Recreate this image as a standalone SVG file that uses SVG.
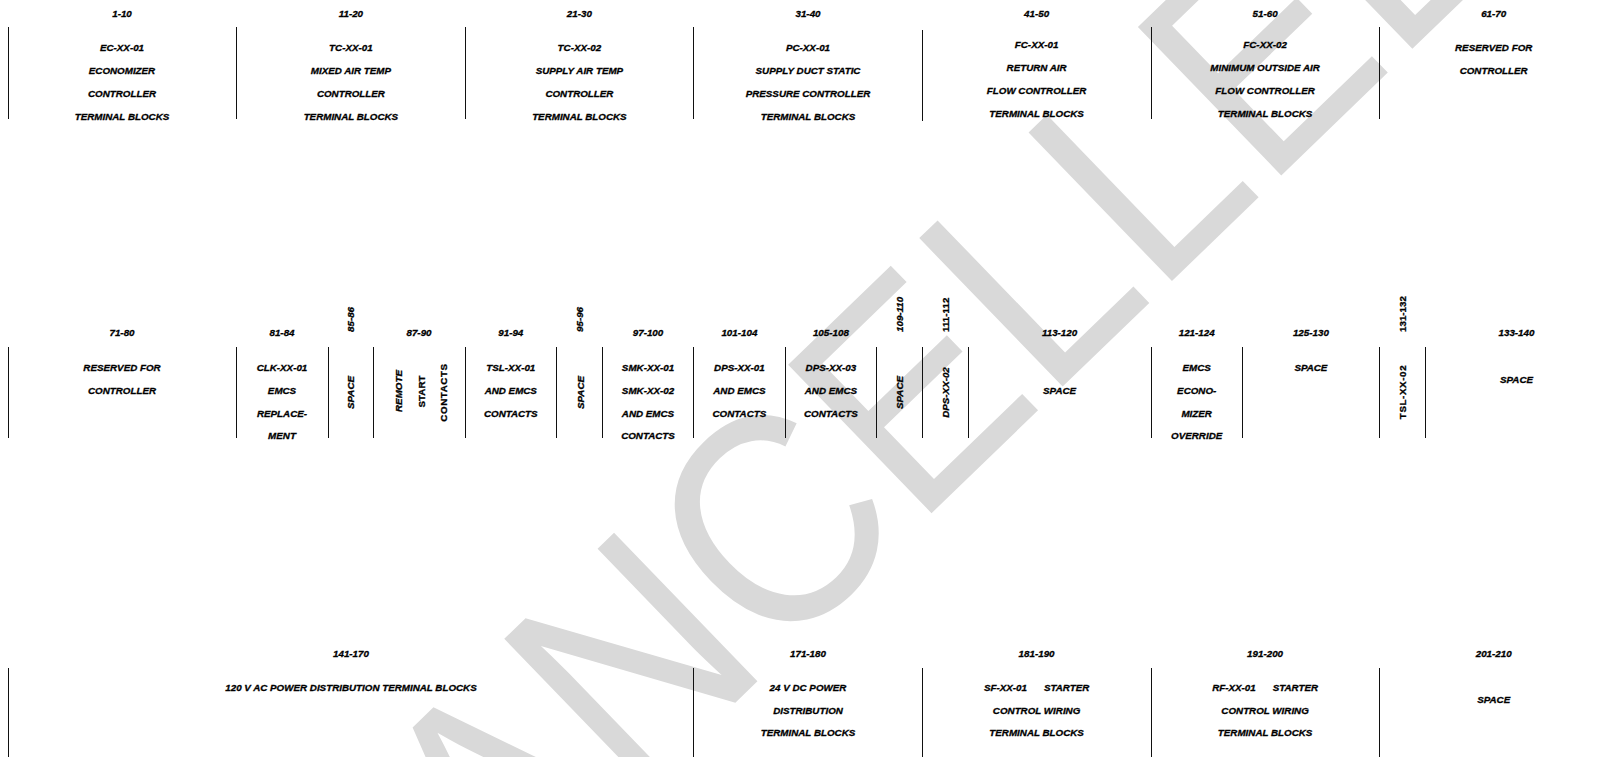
<svg xmlns="http://www.w3.org/2000/svg" width="1600" height="757" viewBox="0 0 1600 757">
<style>
.t{font-family:"Liberation Sans",Arial,sans-serif;font-size:9.8px;font-weight:bold;font-style:italic;text-anchor:middle;fill:#000;stroke:#000;stroke-width:0.3}
.n{font-style:normal}
.s{text-anchor:start}
.ln{stroke:#111;stroke-width:1;fill:none}
.wm{font-family:"Liberation Sans",Arial,sans-serif;font-size:300px;fill:#d9d9d9;text-anchor:middle}
</style>
<rect width="1600" height="757" fill="#fff"/>
<g id="watermark" transform="translate(874,420) rotate(-44)">
<text class="wm" x="0" y="107" textLength="1640" lengthAdjust="spacingAndGlyphs">CANCELLED</text>
</g>
<g id="dividers" class="ln">
<path d="M8.5 27V119M236.5 27V119M465.5 27V119M693.5 27V119M922.5 30V121M1151.5 27V119M1379.5 27V119"/>
<path d="M8.5 347V438M236.5 347V438M328.5 347V438M373.5 347V438M465.5 347V438M556.5 347V438M602.5 347V438M693.5 347V438M785.5 347V438M876.5 347V438M922.5 347V438M968.5 347V438M1151.5 347V438M1242.5 347V438M1379.5 347V438M1425.5 347V438"/>
<path d="M8.5 668V757M693.5 668V757M922.5 668V757M1151.5 668V757M1379.5 668V757"/>
</g>
<g id="tb-1-10" class="t"><text x="122" y="16.8">1-10</text><text x="122" y="51">EC-XX-01</text><text x="122" y="74">ECONOMIZER</text><text x="122" y="97">CONTROLLER</text><text x="122" y="119.7">TERMINAL BLOCKS</text></g>
<g id="tb-11-20" class="t"><text x="350.9" y="16.8">11-20</text><text x="350.9" y="51">TC-XX-01</text><text x="350.9" y="74">MIXED AIR TEMP</text><text x="350.9" y="97">CONTROLLER</text><text x="350.9" y="119.7">TERMINAL BLOCKS</text></g>
<g id="tb-21-30" class="t"><text x="579.4" y="16.8">21-30</text><text x="579.4" y="51">TC-XX-02</text><text x="579.4" y="74">SUPPLY AIR TEMP</text><text x="579.4" y="97">CONTROLLER</text><text x="579.4" y="119.7">TERMINAL BLOCKS</text></g>
<g id="tb-31-40" class="t"><text x="808" y="16.8">31-40</text><text x="808" y="51">PC-XX-01</text><text x="808" y="74">SUPPLY DUCT STATIC</text><text x="808" y="97">PRESSURE CONTROLLER</text><text x="808" y="119.7">TERMINAL BLOCKS</text></g>
<g id="tb-41-50" class="t"><text x="1036.6" y="16.8">41-50</text><text x="1036.6" y="47.6">FC-XX-01</text><text x="1036.6" y="71">RETURN AIR</text><text x="1036.6" y="94">FLOW CONTROLLER</text><text x="1036.6" y="117">TERMINAL BLOCKS</text></g>
<g id="tb-51-60" class="t"><text x="1265.1" y="16.8">51-60</text><text x="1265.1" y="47.6">FC-XX-02</text><text x="1265.1" y="71">MINIMUM OUTSIDE AIR</text><text x="1265.1" y="94">FLOW CONTROLLER</text><text x="1265.1" y="117">TERMINAL BLOCKS</text></g>
<g id="tb-61-70" class="t"><text x="1493.7" y="16.8">61-70</text><text x="1493.7" y="51">RESERVED FOR</text><text x="1493.7" y="74">CONTROLLER</text></g>
<g id="tb-71-80" class="t"><text x="122" y="336.2">71-80</text><text x="122" y="371">RESERVED FOR</text><text x="122" y="393.7">CONTROLLER</text></g>
<g id="tb-81-84" class="t"><text x="282" y="336.2">81-84</text><text x="282" y="371">CLK-XX-01</text><text x="282" y="393.7">EMCS</text><text x="282" y="416.5">REPLACE-</text><text x="282" y="439.3">MENT</text></g>
<g id="tb-85-86" class="t"><text class="s" transform="translate(354.3,332) rotate(-90)">85-86</text><text transform="translate(354.3,392.5) rotate(-90)">SPACE</text></g>
<g id="tb-87-90" class="t"><text x="419" y="336.2">87-90</text><text transform="translate(401.8,391) rotate(-90)">REMOTE</text><text class="n" transform="translate(425.2,391.5) rotate(-90)">START</text><text class="n" transform="translate(446.8,392.5) rotate(-90)" letter-spacing="0.6">CONTACTS</text></g>
<g id="tb-91-94" class="t"><text x="510.8" y="336.2">91-94</text><text x="510.8" y="371">TSL-XX-01</text><text x="510.8" y="393.7">AND EMCS</text><text x="510.8" y="416.5">CONTACTS</text></g>
<g id="tb-95-96" class="t"><text class="s" transform="translate(583.2,332) rotate(-90)">95-96</text><text transform="translate(583.5,392.5) rotate(-90)">SPACE</text></g>
<g id="tb-97-100" class="t"><text x="648" y="336.2">97-100</text><text x="648" y="371">SMK-XX-01</text><text x="648" y="393.7">SMK-XX-02</text><text x="648" y="416.5">AND EMCS</text><text x="648" y="439.3">CONTACTS</text></g>
<g id="tb-101-104" class="t"><text x="739.4" y="336.2">101-104</text><text x="739.4" y="371">DPS-XX-01</text><text x="739.4" y="393.7">AND EMCS</text><text x="739.4" y="416.5">CONTACTS</text></g>
<g id="tb-105-108" class="t"><text x="830.9" y="336.2">105-108</text><text x="830.9" y="371">DPS-XX-03</text><text x="830.9" y="393.7">AND EMCS</text><text x="830.9" y="416.5">CONTACTS</text></g>
<g id="tb-109-110" class="t"><text class="s" transform="translate(903,332) rotate(-90)">109-110</text><text transform="translate(903,392.5) rotate(-90)">SPACE</text></g>
<g id="tb-111-112" class="t"><text class="s n" transform="translate(948.6,332) rotate(-90)">111-112</text><text transform="translate(948.6,392.5) rotate(-90)">DPS-XX-02</text></g>
<g id="tb-113-120" class="t"><text x="1059.6" y="336.2">113-120</text><text x="1059.6" y="393.7">SPACE</text></g>
<g id="tb-121-124" class="t"><text x="1196.7" y="336.2">121-124</text><text x="1196.7" y="371">EMCS</text><text x="1196.7" y="393.7">ECONO-</text><text x="1196.7" y="416.5">MIZER</text><text x="1196.7" y="439.3">OVERRIDE</text></g>
<g id="tb-125-130" class="t"><text x="1310.9" y="336.2">125-130</text><text x="1310.9" y="371">SPACE</text></g>
<g id="tb-131-132" class="t"><text class="s n" transform="translate(1406,332) rotate(-90)">131-132</text><text class="n" transform="translate(1406,392) rotate(-90)" letter-spacing="0.6">TSL-XX-02</text></g>
<g id="tb-133-140" class="t"><text x="1516.5" y="336.2">133-140</text><text x="1516.5" y="382.6">SPACE</text></g>
<g id="tb-141-170" class="t"><text x="351" y="656.5">141-170</text><text x="351" y="690.5">120 V AC POWER DISTRIBUTION TERMINAL BLOCKS</text></g>
<g id="tb-171-180" class="t"><text x="808" y="656.5">171-180</text><text x="808" y="690.5">24 V DC POWER</text><text x="808" y="713.7">DISTRIBUTION</text><text x="808" y="736.2">TERMINAL BLOCKS</text></g>
<g id="tb-181-190" class="t"><text x="1036.6" y="656.5">181-190</text><text x="1036.6" y="690.5">SF-XX-01<tspan dx="17">STARTER</tspan></text><text x="1036.6" y="713.7">CONTROL WIRING</text><text x="1036.6" y="736.2">TERMINAL BLOCKS</text></g>
<g id="tb-191-200" class="t"><text x="1265.1" y="656.5">191-200</text><text x="1265.1" y="690.5">RF-XX-01<tspan dx="17">STARTER</tspan></text><text x="1265.1" y="713.7">CONTROL WIRING</text><text x="1265.1" y="736.2">TERMINAL BLOCKS</text></g>
<g id="tb-201-210" class="t"><text x="1493.7" y="656.5">201-210</text><text x="1493.7" y="702.6">SPACE</text></g>
</svg>
